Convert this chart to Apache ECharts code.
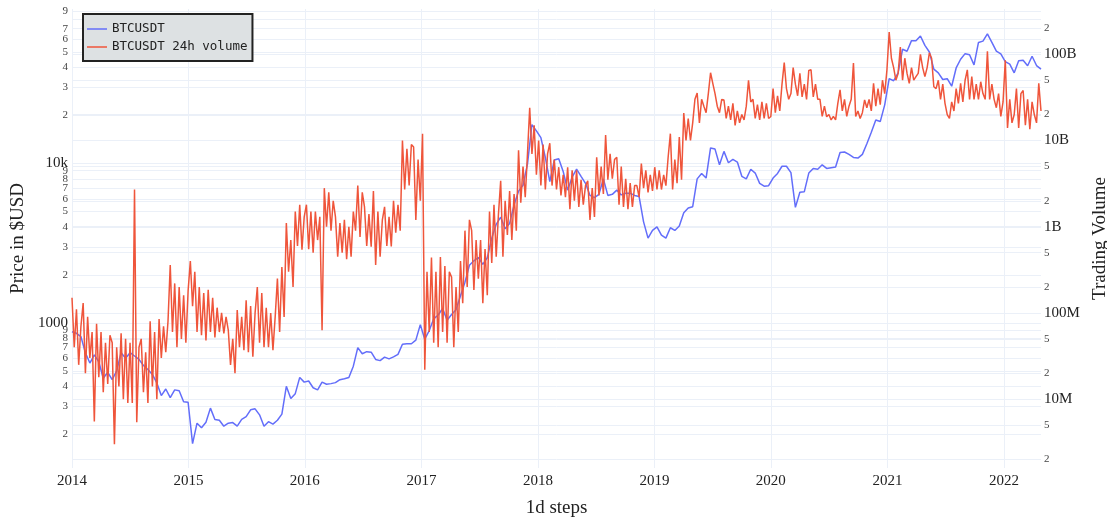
<!DOCTYPE html>
<html>
<head>
<meta charset="utf-8">
<title>BTCUSDT</title>
<script src="https://cdn.jsdelivr.net/npm/echarts@6/dist/echarts.min.js"></script>
<style>
  html, body { margin: 0; padding: 0; background: #fff; }
  #chart { width: 1107px; height: 518px; }
</style>
</head>
<body>
<div id="chart"></div>
<script>
const DAY = 86400000;
const START = Date.UTC(2014, 0, 1);
const PRICE_STEP_DAYS = 14;   // one price reading every two weeks
const VOLUME_STEP_DAYS = 7;   // one volume reading every week

// BTCUSDT close, USD
const priceUSD = [
  880, 860, 820, 650, 560, 630, 570, 450, 490, 440, 500, 650, 600, 650, 620, 590, 540, 510, 475, 420, 350, 385, 340, 380, 375, 320, 318,
  175, 235, 220, 238, 292, 248, 245, 225, 235, 237, 225, 248, 258, 285, 289, 265, 225, 240, 232, 245, 268, 400, 335, 360, 455, 425,
  432, 392, 380, 425, 412, 416, 422, 440, 446, 455, 535, 700, 640, 660, 655, 590, 580, 610, 595, 612, 635, 735, 740, 740, 780, 975,
  790, 895, 1060, 1120, 1230, 1040, 1130, 1210, 1480, 1800, 2300, 2450, 2570, 2330, 2560, 3400, 4150, 4600, 3900, 4200, 5500, 6700, 7300, 9900, 17500, 16000,
  14500, 10900, 7700, 10500, 10700, 8900, 6800, 8200, 9200, 8300, 7500, 6300, 6100, 6400, 8000, 6300, 6400, 6800, 6350, 6500, 6500, 6300, 6200, 4300, 3400, 3800,
  4000, 3550, 3400, 3950, 3800, 4050, 4900, 5250, 5350, 8000, 8650, 8100, 12500, 12300, 9800, 11900, 10100, 10600, 10200, 8300, 8000, 9200, 8700, 7500, 7200, 7250,
  8100, 8650, 9600, 9600, 8750, 5300, 6600, 6650, 8700, 9300, 9200, 9800, 9300, 9400, 9500, 11700, 11800, 11400, 10900, 10800, 11400, 13300, 15700, 18700, 18300, 23300,
  34000, 33000, 37000, 52000, 50500, 58900, 58800, 63000, 55000, 50000, 39000, 37000, 33600, 34000, 30500, 39700, 45000, 48800, 48000, 41500, 57400, 58500, 65000, 57500, 50600, 48600,
  43500, 42000, 37000, 44000, 44400, 41000, 47000, 41100, 39000
];

// 24h volume, millions of USD
const volumeM = [
  // 2014
  150, 40, 110, 25, 70, 130, 20, 90, 30, 60, 5.5, 75, 18, 60, 12, 45, 15, 55, 45, 3, 40, 14, 58, 10, 50, 9,
  45, 9, 2700, 5.4, 40, 50, 12, 35, 9, 80, 14, 60, 10, 85, 30, 70, 35, 80, 360, 60, 220, 40, 200, 50, 160, 45, 180,
  // 2015
  400, 120, 300, 60, 200, 55, 170, 48, 185, 60, 150, 52, 115, 60, 100, 58, 90, 63, 25, 50, 20, 108, 40, 90, 37,
  140, 35, 120, 31, 100, 200, 45, 170, 40, 115, 40, 100, 37, 90, 250, 60, 340, 90, 1100, 300, 700, 200, 1500, 600, 1800, 540, 1300,
  // 2016
  1800, 550, 1500, 500, 1500, 700, 1300, 63, 2800, 1000, 2500, 900, 2000, 1300, 450, 1100, 500, 1200, 420, 1000, 450,
  1500, 900, 3000, 760, 2500, 1700, 600, 1400, 585, 2600, 360, 1500, 450, 1200, 1700, 600, 1300, 590, 2000, 850, 1800, 900,
  10000, 2700, 8000, 3000, 9000, 8400, 1200, 6000, 2000,
  // 2017
  12000, 22, 300, 60, 440, 45, 300, 40, 445, 60, 350, 45, 300, 260, 40, 200, 60, 400, 130, 900, 200, 1200, 900, 185, 700, 250,
  700, 130, 550, 160, 1500, 380, 1800, 450, 1400, 3400, 450, 2000, 800, 2600, 700, 2400, 900, 7700, 1900, 5000, 2200, 7000, 24000, 7000, 15000, 4000,
  // 2018
  10000, 3000, 9000, 2700, 7000, 9300, 3000, 6000, 2700, 4900, 2300, 4000, 2200, 4900, 1600, 4500, 2000, 4500, 1700, 3500, 1800, 3000, 3400, 1200, 2800, 1300,
  6400, 2300, 5000, 2400, 11600, 3500, 7000, 3600, 6000, 6400, 1800, 5000, 1700, 3600, 1600, 3200, 1700, 3000, 3000, 2200, 5400, 2800, 4500, 2500, 4000, 2600,
  // 2019
  4900, 2700, 4500, 2700, 4000, 3000, 6400, 12000, 2700, 6000, 3200, 11000, 3500, 20800, 10000, 18000, 10000, 16000, 30000, 35600, 16000, 30000, 25000, 21000, 35000, 61000,
  46000, 35000, 25000, 21000, 30000, 29500, 18000, 25000, 17300, 27000, 15000, 22000, 16000, 20000, 17300, 25000, 50000, 28000, 30000, 18000, 26000, 17300, 28000, 18000, 27000, 18000,
  // 2020
  19000, 40000, 21000, 33000, 22000, 45000, 80000, 40000, 30000, 35000, 70000, 45000, 33000, 60000, 32000, 45000, 30000, 65000, 66000, 32000, 45000, 30000, 30000, 19000, 25000, 18800,
  20000, 17300, 19000, 17300, 27000, 38600, 22000, 30000, 19000, 25000, 30000, 79000, 19000, 22000, 18000, 21000, 29500, 24000, 30000, 22000, 46000, 25000, 40000, 26000, 50000, 35000, 66000,
  // 2021
  181000, 90000, 70000, 50000, 60000, 121000, 50000, 90000, 60000, 46000, 70000, 50000, 55000, 60000, 100000, 70000, 55000, 70000, 104000, 90000, 42000, 40000, 50000, 30000, 45000, 27000,
  20000, 18000, 28000, 22000, 40000, 27000, 46000, 28000, 50000, 66000, 30000, 55000, 30000, 45000, 30000, 48000, 35000, 30000, 108000, 30000, 45000, 30000, 24000, 35000, 19000, 28000,
  // 2022
  85000, 14000, 30000, 16000, 20000, 40000, 14000, 35000, 38000, 15000, 30000, 13500, 28000, 20000, 16000, 46000, 22000
];

const years = [2014, 2015, 2016, 2017, 2018, 2019, 2020, 2021, 2022];
const priceTicks = [200, 300, 400, 500, 600, 700, 800, 900, 1000, 2000, 3000, 4000, 5000, 6000, 7000, 8000, 9000, 10000,
  20000, 30000, 40000, 50000, 60000, 70000, 80000, 90000];
const volumeTicks = [2e6, 5e6, 1e7, 2e7, 5e7, 1e8, 2e8, 5e8, 1e9, 2e9, 5e9, 1e10, 2e10, 5e10, 1e11, 2e11];
const priceMajorLabels = { 1000: '1000', 10000: '10k' };
const volumeMajorLabels = { 1e7: '10M', 1e8: '100M', 1e9: '1B', 1e10: '10B', 1e11: '100B' };

const yearTicks = years.map(y => Date.UTC(y, 0, 1));
const priceData = priceUSD.map((v, i) => [START + i * PRICE_STEP_DAYS * DAY, v]);
const volumeData = volumeM.map((v, i) => [START + i * VOLUME_STEP_DAYS * DAY, v * 1e6]);
const END = START + (volumeM.length - 1) * VOLUME_STEP_DAYS * DAY;

function leadDigit(v) {
  return Math.round(v / Math.pow(10, Math.floor(Math.log10(v) + 1e-9)));
}
function logLabel(majors) {
  return function (v) {
    const key = Math.round(v);
    if (majors[key] !== undefined) return '{major|' + majors[key] + '}';
    return '{minor|' + leadDigit(v) + '}';
  };
}

const SERIF = '"Liberation Serif", "DejaVu Serif", serif';
const GRID = '#ebf0f8';
const labelRich = {
  major: { fontFamily: SERIF, fontSize: 15, color: '#222' },
  minor: { fontFamily: SERIF, fontSize: 11, color: '#444' }
};

const chart = echarts.init(document.getElementById('chart'));
chart.setOption({
  animation: false,
  backgroundColor: '#fff',
  grid: { left: 72, right: 66, top: 9, bottom: 50, outerBoundsMode: 'none' },
  legend: {
    left: 83,
    top: 14,
    orient: 'vertical',
    data: ['BTCUSDT', 'BTCUSDT 24h volume'],
    icon: 'rect',
    backgroundColor: '#dde1e3',
    borderColor: '#222',
    borderWidth: 2,
    borderRadius: 0,
    padding: [8, 5, 7, 4],
    itemGap: 4,
    itemWidth: 20,
    itemHeight: 1.5,
    textStyle: { fontFamily: '"DejaVu Sans Mono", monospace', fontSize: 12.5, color: '#222', lineHeight: 14 }
  },
  xAxis: {
    type: 'value',
    min: START,
    max: END,
    name: '1d steps',
    nameLocation: 'middle',
    nameGap: 31,
    nameTextStyle: { fontFamily: SERIF, fontSize: 19, color: '#222' },
    axisLine: { show: false },
    axisTick: { show: false, customValues: yearTicks },
    axisLabel: {
      customValues: yearTicks,
      margin: 6,
      fontFamily: SERIF,
      fontSize: 15,
      color: '#222',
      formatter: v => String(new Date(v).getUTCFullYear())
    },
    splitLine: { show: true, lineStyle: { color: GRID, width: 1 } }
  },
  yAxis: [
    {
      type: 'log',
      position: 'left',
      min: 123,
      max: 93000,
      name: 'Price in $USD',
      nameLocation: 'middle',
      nameRotate: 90,
      nameGap: 40,
      nameTextStyle: { fontFamily: SERIF, fontSize: 19, color: '#222' },
      axisLine: { show: false },
      axisTick: { show: false, customValues: priceTicks },
      axisLabel: {
        customValues: priceTicks, margin: 4, showMinLabel: true, showMaxLabel: true, hideOverlap: false,
        formatter: logLabel(priceMajorLabels), rich: labelRich
      },
      splitLine: { show: true, lineStyle: { color: GRID, width: 1 } }
    },
    {
      type: 'log',
      position: 'right',
      min: 1.59e6,
      max: 3.35e11,
      name: 'Trading Volume',
      nameLocation: 'middle',
      nameRotate: 90,
      nameGap: 48,
      nameTextStyle: { fontFamily: SERIF, fontSize: 19, color: '#222' },
      axisLine: { show: false },
      axisTick: { show: false, customValues: volumeTicks },
      axisLabel: {
        customValues: volumeTicks, margin: 3, showMinLabel: true, showMaxLabel: true,
        formatter: logLabel(volumeMajorLabels), rich: labelRich
      },
      splitLine: { show: true, lineStyle: { color: GRID, width: 1 } }
    }
  ],
  series: [
    {
      name: 'BTCUSDT',
      type: 'line',
      yAxisIndex: 0,
      data: priceData,
      symbol: 'none',
      color: '#636efa',
      lineStyle: { width: 1.5 }
    },
    {
      name: 'BTCUSDT 24h volume',
      type: 'line',
      yAxisIndex: 1,
      data: volumeData,
      symbol: 'none',
      color: '#ef553b',
      lineStyle: { width: 1.5 }
    }
  ]
});
</script>
</body>
</html>
